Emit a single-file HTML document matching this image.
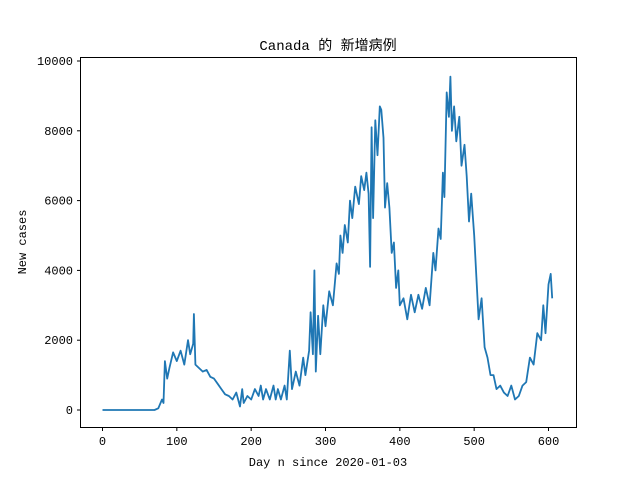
<!DOCTYPE html>
<html><head><meta charset="utf-8"><style>
body{margin:0;background:#fff}
svg text{font-family:"Liberation Mono","WenQuanYi Zen Hei","Noto Sans CJK SC",monospace;fill:#000}
</style></head><body>
<svg id="chart" width="640" height="480" xmlns="http://www.w3.org/2000/svg">
<rect width="640" height="480" fill="#fff"/>
<text x="328" y="50" font-size="14" text-anchor="middle">Canada 的 新增病例</text>
<text x="328" y="466" font-size="12" text-anchor="middle">Day n since 2020-01-03</text>
<text x="0" y="0" font-size="12" text-anchor="middle" transform="translate(26,242) rotate(-90)">New cases</text>
<g id="ticks"></g>
<path id="line" fill="none" stroke="#1f77b4" stroke-width="1.8" stroke-linejoin="round"/>
<rect x="80.5" y="57.5" width="496" height="370" fill="none" stroke="#000" stroke-width="1"/>
</svg>
<script>
const days=[0,70,75,80,82,84,87,90,95,100,105,110,115,118,122,123,125,130,135,140,145,150,155,160,165,170,175,180,185,188,190,195,200,205,210,213,216,220,225,230,233,236,240,245,248,252,255,260,265,270,273,278,280,283,285,287,290,293,297,300,305,310,315,318,320,323,326,330,333,336,340,345,348,352,355,358,360,362,364,367,370,373,375,378,380,383,386,389,392,395,398,400,405,410,415,420,425,430,435,440,445,448,452,455,458,460,463,466,468,470,473,476,480,483,487,490,493,496,500,503,506,510,514,518,522,526,530,535,540,545,550,555,560,565,570,575,580,585,590,593,596,600,603,605];
const cases=[0,0,50,300,200,1400,900,1200,1650,1400,1700,1300,2000,1600,1900,2750,1300,1200,1100,1150,950,900,750,600,450,400,300,500,100,600,200,400,300,600,400,700,300,600,300,700,300,600,300,700,300,1700,600,1100,700,1500,1000,1700,2800,1600,4000,1100,2700,1600,3000,2400,3400,3000,4200,3900,5000,4500,5300,4800,6000,5500,6400,5900,6700,6300,6800,6200,4100,8100,5500,8300,7300,8700,8600,7800,5800,6500,5800,4500,4800,3500,4000,3000,3200,2600,3300,2800,3300,2900,3500,3000,4500,4000,5200,4900,6800,6100,9100,8400,9550,8000,8700,7700,8400,7000,7600,6700,5400,6200,5000,3800,2600,3200,1800,1500,1000,1000,600,700,500,400,700,300,400,700,800,1500,1300,2200,2000,3000,2200,3600,3900,3200];
const xTicks=[0,100,200,300,400,500,600];
const yTicks=[0,2000,4000,6000,8000,10000];
const X=d=>102.5+d*(446/600);
const Y=v=>410-v*0.0349;
const NS="http://www.w3.org/2000/svg";
const g=document.getElementById('ticks');
function mk(t,a){const e=document.createElementNS(NS,t);for(const k in a)e.setAttribute(k,a[k]);g.appendChild(e);return e;}
xTicks.forEach(t=>{
 const l=mk('line',{x1:X(t),x2:X(t),y1:427.5,y2:431,stroke:'#000'});
 
 
 const s=mk('text',{x:X(t),y:445,'font-size':12,'text-anchor':'middle'});s.textContent=t;
 
 
});
yTicks.forEach(t=>{
 const l=mk('line',{x1:77,x2:80.5,y1:Y(t),y2:Y(t),stroke:'#000'});
 
 
 const s=mk('text',{x:73,y:Y(t)+4,'font-size':12,'text-anchor':'end'});s.textContent=t;
 
 
});
document.getElementById('line').setAttribute('d',days.map((d,i)=>(i?'L':'M')+X(d).toFixed(1)+','+Y(cases[i]).toFixed(1)).join(''));
</script>
</body></html>
